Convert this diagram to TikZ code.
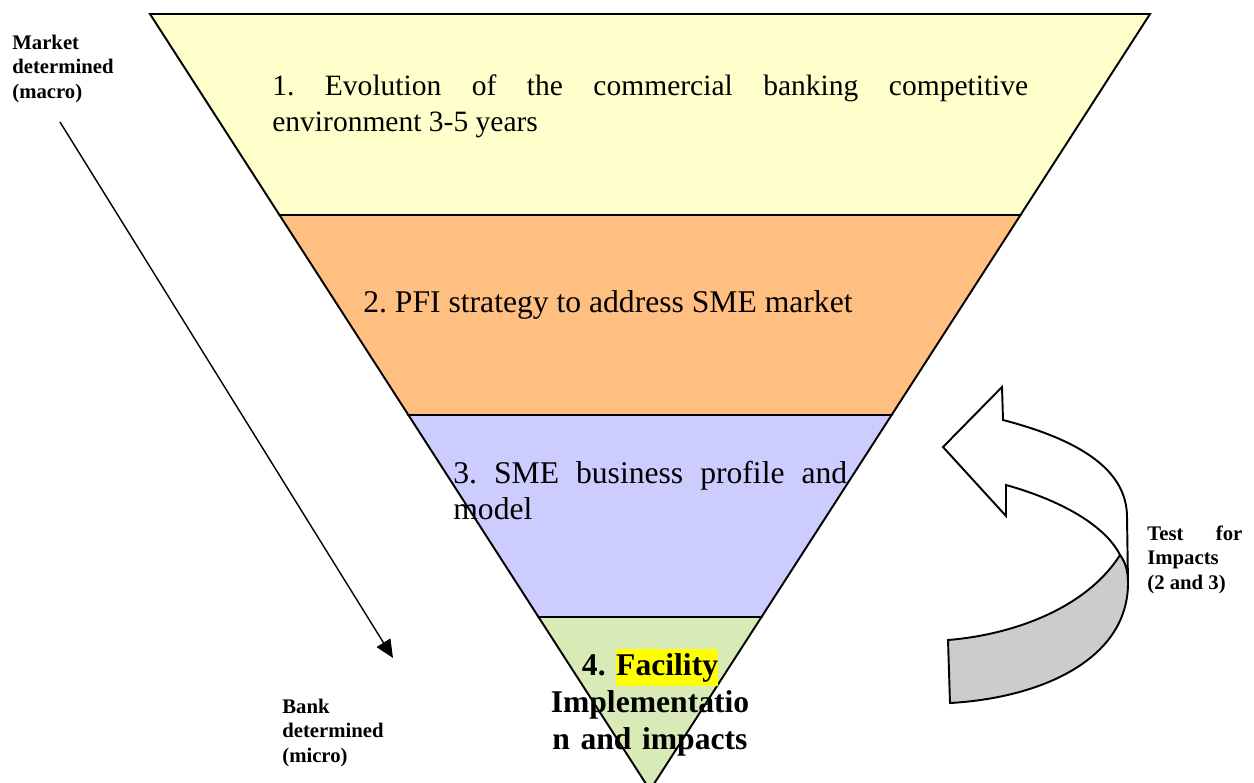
\documentclass[tikz,border=0pt]{standalone}
\usepackage{fontspec}
\setmainfont{Liberation Serif}
\usetikzlibrary{arrows.meta}
\definecolor{bandA}{HTML}{FFFFCC}
\definecolor{bandB}{HTML}{FFBF80}
\definecolor{bandC}{HTML}{CCCCFF}
\definecolor{bandD}{HTML}{D8EAB5}
\definecolor{marker}{HTML}{FFFF00}
\tikzset{
	band/.style={draw,line width=1.1pt,line join=miter},
	stage/.style={inner sep=0pt,anchor=base west,align=justify,font=\fontsize{18}{20.6}\selectfont},
	side/.style={inner sep=0pt,anchor=base west,align=left,text width=3cm,font=\bfseries\fontsize{11.8}{14.2}\selectfont}
}
\setlength{\fboxsep}{0pt}
\frenchspacing
\begin{document}
\begin{tikzpicture}[x=0.02cm,y=-0.02cm]
	\useasboundingbox (0,0) rectangle (1254,782);
	\clip (0,0) rectangle (1254,782);
	%\draw[step=50,gray!20] (0,0) grid (1254,782); %Hilfsgitter
	% Trichter
	\filldraw[band,fill=bandA] (150,14) -- (1150,14) -- (1020.5,215) -- (279.5,215) -- cycle;
	\filldraw[band,fill=bandB] (279.5,215) -- (1020.5,215) -- (891.6,415) -- (408.4,415) -- cycle;
	\filldraw[band,fill=bandC] (408.4,415) -- (891.6,415) -- (761.5,617) -- (538.5,617) -- cycle;
	\filldraw[band,fill=bandD] (538.5,617) -- (761.5,617) -- (650,790) -- cycle;
	\node[stage,text width=15.12cm,font=\fontsize{16.8}{20.8}\selectfont] (evol) at (272,95) {1. Evolution of the commercial banking competitive\linebreak environment 3-5 years};
	\node[stage] (strat) at (363,312) {2. PFI strategy to address SME market};
	\node[stage,text width=7.88cm] (prof) at (453,483) {3. SME business profile and\linebreak model};
	\node[stage,anchor=base,align=center,text width=6cm,font=\bfseries\fontsize{18}{21.3}\selectfont] (impl) at (650,675) {4. \colorbox{marker}{\strut Facility}\\Implementatio\\n and impacts};
	% Seitenbeschriftung
	\node[side] (macro) at (12,49) {Market\\determined\\(macro)};
	\node[side] (micro) at (282,713) {Bank\\determined\\(micro)};
	\node[side,text width=1.9cm,align=justify] (test) at (1147,540) {Test for\linebreak Impacts\newline (2 and 3)};
	\coordinate (from) at (60,122); \coordinate (to) at (393,658);
	\draw[line width=0.8pt,-{Triangle[length=0.36cm,width=0.32cm]}] (from) -- (to);
	% Rueckpfeil
	\filldraw[fill=white,line width=1.1pt,line join=miter] (943,447) -- (1002,387) -- (1003,420) .. controls (1080,440) and (1127,470) .. (1127,517) -- (1128,583) .. controls (1128,570) and (1125,562) .. (1120,555) .. controls (1105,525) and (1060,500) .. (1006,485) -- (1006,516) -- cycle;
	\filldraw[fill=gray!40,line width=1.1pt] (1120,555) .. controls (1085,610) and (1010,635) .. (948,640) -- (950,703) .. controls (1040,698) and (1128,660) .. (1128,583) .. controls (1128,570) and (1125,562) .. (1120,555) -- cycle;
\end{tikzpicture}
\end{document}
